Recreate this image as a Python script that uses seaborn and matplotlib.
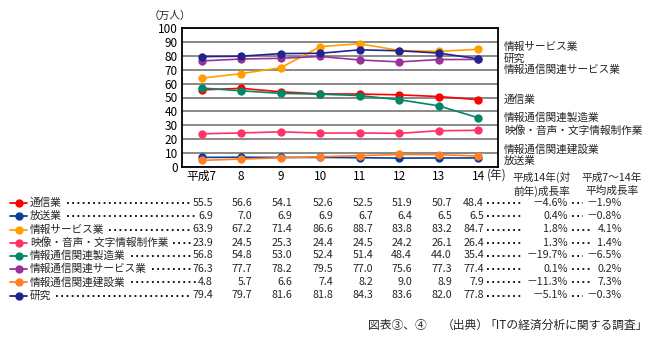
import matplotlib
matplotlib.use("Agg")
import matplotlib.pyplot as plt
from matplotlib.lines import Line2D
import seaborn as sns
import pandas as pd

years = [7, 8, 9, 10, 11, 12, 13, 14]
year_labels = ["平成7", "8", "9", "10", "11", "12", "13", "14"]

series = ["通信業", "放送業", "情報サービス業", "映像・音声・文字情報制作業",
          "情報通信関連製造業", "情報通信関連サービス業", "情報通信関連建設業", "研究"]
tsushin = [55.5, 56.6, 54.1, 52.6, 52.5, 51.9, 50.7, 48.4]
hoso = [6.9, 7.0, 6.9, 6.9, 6.7, 6.4, 6.5, 6.5]
joho_service = [63.9, 67.2, 71.4, 86.6, 88.7, 83.8, 83.2, 84.7]
eizo = [23.9, 24.5, 25.3, 24.4, 24.5, 24.2, 26.1, 26.4]
seizo = [56.8, 54.8, 53.0, 52.4, 51.4, 48.4, 44.0, 35.4]
kanren_service = [76.3, 77.7, 78.2, 79.5, 77.0, 75.6, 77.3, 77.4]
kensetsu = [4.8, 5.7, 6.6, 7.4, 8.2, 9.0, 8.9, 7.9]
kenkyu = [79.4, 79.7, 81.6, 81.8, 84.3, 83.6, 82.0, 77.8]
values = [tsushin, hoso, joho_service, eizo, seizo, kanren_service, kensetsu, kenkyu]

rate_yoy = ["－4.6%", "0.4%", "1.8%", "1.3%", "－19.7%", "0.1%", "－11.3%", "－5.1%"]
rate_avg = ["－1.9%", "－0.8%", "4.1%", "1.4%", "－6.5%", "0.2%", "7.3%", "－0.3%"]

colors = ["#FF0000", "#0A3F98", "#FFA000", "#FF3366", "#008866", "#993399", "#FF7F27", "#23238F"]

right_labels = ["情報サービス業", "研究", "情報通信関連サービス業", "通信業",
                "情報通信関連製造業", "映像・音声・文字情報制作業", "情報通信関連建設業", "放送業"]
right_label_y = [46.5, 58.5, 70, 100, 118, 131, 149, 161]

footer_parts = ["図表③、④", "（出典）", "「ITの経済分析に関する調査」"]

sns.set_style("white")
plt.rcParams['font.family'] = ['Noto Sans CJK JP', 'DejaVu Sans']

W, H = 658, 340
fig = plt.figure(figsize=(W / 100, H / 100), dpi=100)

def px(x):
    return x / W

def py(y):
    return 1 - y / H

ax = fig.add_axes([px(182), py(167), px(498) - px(182), py(28) - py(167)])

rows = []
for name, vals in zip(series, values):
    for yr, v in zip(years, vals):
        rows.append({"year": yr, "value": v, "series": name})
df = pd.DataFrame(rows)
palette = dict(zip(series, colors))

sns.lineplot(data=df, x="year", y="value", hue="series", hue_order=series,
             palette=palette, marker="o", markersize=6, markeredgewidth=0,
             linewidth=1.2, legend=False, ax=ax, sort=False)

fs = 7.7
tfs = 8.5

ax.set_xlim(6.5, 14.5)
ax.set_ylim(0, 100)
ax.set_yticks(range(0, 101, 10))
ax.set_xticks(years)
ax.set_xticklabels(year_labels)
ax.set_xticks([y + 0.5 for y in years[:-1]], minor=True)
ax.tick_params(axis="x", which="major", length=0, labelsize=tfs, pad=2, colors="black")
ax.tick_params(axis="x", which="minor", length=4, direction="in", width=1, color="black")
ax.tick_params(axis="y", length=0, labelsize=tfs, pad=3, colors="black")
ax.set_xlabel("")
ax.set_ylabel("")
ax.yaxis.grid(True, color="#808080", linewidth=1.3)
ax.xaxis.grid(False)
ax.set_axisbelow(True)
for sp in ax.spines.values():
    sp.set_visible(True)
    sp.set_color("black")
    sp.set_linewidth(1.3)

fig.text(px(487), py(175), "(年)", fontsize=tfs, ha="left", va="center")
fig.text(px(149), py(16), "（万人）", fontsize=fs, ha="left", va="center")

for lab, yy in zip(right_labels, right_label_y):
    fig.text(px(504), py(yy), lab, fontsize=fs, ha="left", va="center")

# table header
fig.text(px(542), py(177.5), "平成14年(対", fontsize=fs, ha="center", va="center")
fig.text(px(542), py(191), "前年)成長率", fontsize=fs, ha="center", va="center")
fig.text(px(612), py(177.5), "平成7～14年", fontsize=fs, ha="center", va="center")
fig.text(px(612), py(191), "平均成長率", fontsize=fs, ha="center", va="center")

value_right = [213, 252, 292, 333, 373, 412, 452, 484]
row_y = [202.5, 216, 229.5, 242.5, 255.5, 269, 282, 295.5]

fig.canvas.draw()
renderer = fig.canvas.get_renderer()

def text_bbox_px(t):
    bb = t.get_window_extent(renderer=renderer)
    return bb.x0, bb.x1

def dots(x0, x1, yy):
    fig.add_artist(Line2D([px(x0), px(x1)], [py(yy), py(yy)], transform=fig.transFigure,
                          color="black", linewidth=1.3, linestyle=(0, (1, 1.9)),
                          dash_capstyle="butt"))

for i, name in enumerate(series):
    yy = row_y[i]
    fig.add_artist(Line2D([px(10), px(27)], [py(yy), py(yy)], transform=fig.transFigure,
                          color=colors[i], linewidth=1.3))
    fig.add_artist(Line2D([px(18.5)], [py(yy)], transform=fig.transFigure,
                          color=colors[i], marker="o", markersize=6, markeredgewidth=0,
                          linestyle="none"))
    t = fig.text(px(30), py(yy), name, fontsize=fs, ha="left", va="center")
    vals = values[i]
    tv = []
    for vx, v in zip(value_right, vals):
        tv.append(fig.text(px(vx), py(yy), f"{v:.1f}", fontsize=fs, ha="right", va="center"))
    tr = fig.text(px(568), py(yy), rate_yoy[i], fontsize=fs, ha="right", va="center")
    ta = fig.text(px(622), py(yy), rate_avg[i], fontsize=fs, ha="right", va="center")
    fig.canvas.draw()
    lx0, lx1 = text_bbox_px(t)
    vx0, vx1 = text_bbox_px(tv[0])
    dots(lx1 + 5, vx0 - 1, yy)
    v14x0, v14x1 = text_bbox_px(tv[-1])
    rx0, rx1 = text_bbox_px(tr)
    dots(v14x1 + 3, min(rx0 - 4, 521), yy)
    ax0, ax1 = text_bbox_px(ta)
    dots(rx1 + 4, min(ax0 - 4, 592), yy)

ffs = 8.5
fig.text(px(368), py(325), footer_parts[0], fontsize=ffs, ha="left", va="center")
fig.text(px(465), py(325), footer_parts[1], fontsize=ffs, ha="center", va="center")
fig.text(px(648), py(325), footer_parts[2], fontsize=ffs, ha="right", va="center")

fig.savefig("out.png", dpi=100)
